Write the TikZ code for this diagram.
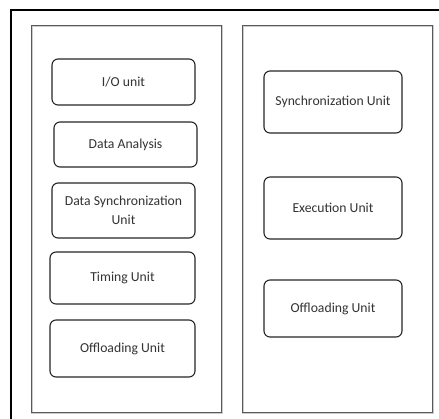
\documentclass[tikz,border=0pt]{standalone}
\usepackage{fontspec}
\setmainfont{Carlito}
\usetikzlibrary{calc}
\tikzset{
  unitbox/.style={draw=black!85, line width=1.1pt, rounded corners=6pt, fill=white, align=center,
    font=\fontsize{13.7}{19}\selectfont, text=black!80, inner sep=0pt},
  panel/.style={draw=black!65, line width=0.9pt},
}

\begin{document}
\begin{tikzpicture}[x=1pt, y=-1pt]
			%%%%% START %%%%%
			\useasboundingbox (0, 0) rectangle (439, 418);
			\clip (0, 0) rectangle (439, 418);
			
			\fill[white] (0, 0) rectangle (439, 418);
			\draw[line width=1.6pt, color=black] (11, 10) rectangle (450, 430);
			
			% panels
			\draw[line width=2pt, color=black!20] (32, 26) rectangle (222, 413);
			\draw[panel] (31, 25) rectangle (221, 412);
			\draw[line width=2pt, color=black!20] (243, 26) rectangle (433, 413);
			\draw[panel] (242, 25) rectangle (432, 412);
			
			% left units
			\node[unitbox, minimum width=143, minimum height=46] (io) at (123.5, 82) {I/O unit};
			\node[unitbox, minimum width=143, minimum height=45] (analysis) at (125.5, 144.5) {Data Analysis};
			\node[unitbox, minimum width=143, minimum height=55] (datasync) at (123.5, 210.5) {Data Synchronization\\Unit};
			\node[unitbox, minimum width=145, minimum height=52] (timing) at (122.5, 278) {Timing Unit};
			\node[unitbox, minimum width=145, minimum height=57] (offleft) at (122.5, 348.5) {Offloading Unit};
			
			% right units
			\node[unitbox, minimum width=138, minimum height=62] (sync) at (333, 102) {Synchronization Unit};
			\node[unitbox, minimum width=138, minimum height=62] (exec) at (333, 208) {Execution Unit};
			\node[unitbox, minimum width=138, minimum height=57] (offright) at (333, 308.5) {Offloading Unit};
			
			%%%%% END %%%%%
		\end{tikzpicture}
\end{document}
